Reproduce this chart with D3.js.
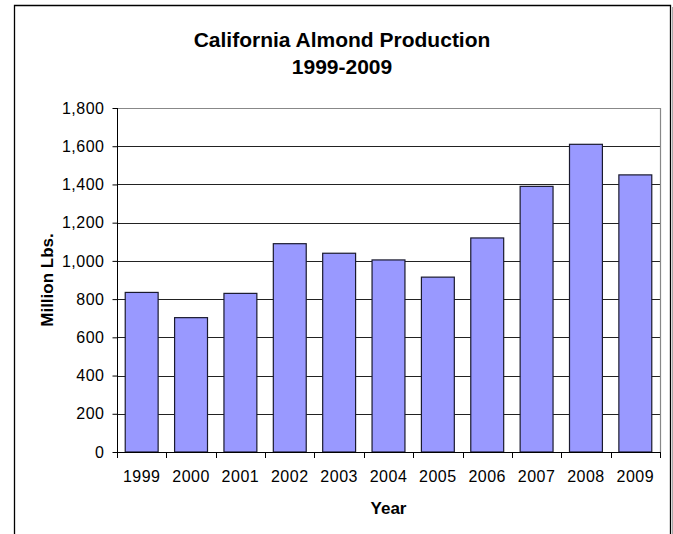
<!DOCTYPE html>
<html>
<head>
<meta charset="utf-8">
<script src="https://cdn.jsdelivr.net/npm/d3@7"></script>
<style>
  html, body { margin: 0; padding: 0; background: #fff; }
  svg { display: block; font-family: Arial, "Liberation Sans", sans-serif; }
</style>
</head>
<body>
<svg id="chart" width="673" height="534"></svg>
<script>
// --- data ---
const years = ["1999", "2000", "2001", "2002", "2003", "2004", "2005", "2006", "2007", "2008", "2009"];
const production = [835, 703, 830, 1090, 1040, 1005, 915, 1120, 1390, 1610, 1450];
const yTicks = [0, 200, 400, 600, 800, 1000, 1200, 1400, 1600, 1800];

const titleLines = ["California Almond Production", "1999-2009"];
const xTitle = "Year";
const yTitle = "Million Lbs.";

// --- layout ---
const svg = d3.select("#chart");
const plot = { left: 117, top: 108, right: 660, bottom: 452 };

const x = d3.scaleBand()
    .domain(years)
    .range([plot.left, plot.right])
    .paddingInner(1 / 3)
    .paddingOuter(1 / 6);

const y = d3.scaleLinear()
    .domain([0, 1800])
    .range([plot.bottom, plot.top]);

// outer frame (bottom edge is out of view)
svg.append("path")
    .attr("d", "M14.5,540V5.5H670.5V540")
    .attr("fill", "none")
    .attr("stroke", "#000")
    .attr("stroke-width", 1.3);
svg.append("line")
    .attr("x1", 672.5).attr("x2", 672.5)
    .attr("y1", 7).attr("y2", 540)
    .attr("stroke", "#aaa")
    .attr("stroke-width", 1);

// title
svg.append("text")
    .attr("x", 342)
    .attr("y", 46.5)
    .attr("text-anchor", "middle")
    .style("font-size", "21px")
    .style("font-weight", "bold")
    .selectAll("tspan")
    .data(titleLines)
    .enter().append("tspan")
    .attr("x", 342)
    .attr("dy", (d, i) => i === 0 ? 0 : 27)
    .text(d => d);

// gridlines
svg.append("g")
    .selectAll("line")
    .data(yTicks.slice(1))
    .enter().append("line")
    .attr("x1", plot.left).attr("x2", plot.right)
    .attr("y1", d => Math.round(y(d)) + 0.5)
    .attr("y2", d => Math.round(y(d)) + 0.5)
    .attr("stroke", "#222")
    .attr("stroke-width", 1);

// plot area border (top/right in gray)
svg.append("path")
    .attr("d", `M${plot.left},${plot.top + 0.5}H${plot.right + 0.5}V${plot.bottom}`)
    .attr("fill", "none")
    .attr("stroke", "#888")
    .attr("stroke-width", 1.2);

// bars
svg.append("g")
    .selectAll("rect")
    .data(years.map((yr, i) => ({ year: yr, value: production[i] })))
    .enter().append("rect")
    .attr("x", d => x(d.year))
    .attr("y", d => y(d.value))
    .attr("width", x.bandwidth())
    .attr("height", d => y(0) - y(d.value))
    .attr("fill", "#9999ff")
    .attr("stroke", "#1a1a2e")
    .attr("stroke-width", 1.2);

// y axis
const yAxis = svg.append("g")
    .attr("transform", `translate(${plot.left + 0.5},0)`)
    .call(d3.axisLeft(y)
        .tickValues(yTicks)
        .tickSize(5)
        .tickPadding(8)
        .tickFormat(d3.format(",")));
yAxis.select(".domain").attr("d", `M0,${plot.top}V${plot.bottom}`).attr("stroke", "#000");
yAxis.selectAll(".tick line").attr("stroke", "#000");
yAxis.selectAll("text")
    .attr("fill", "#000")
    .style("font-size", "16px")
    .style("letter-spacing", "0.5px")
    .style("font-family", "Arial, 'Liberation Sans', sans-serif");

// x axis, ticks on the category boundaries
const step = x.step();
const boundaries = d3.range(years.length + 1).map(i => plot.left + i * step);
const xAxis = svg.append("g").attr("class", "x-axis");
xAxis.append("line")
    .attr("x1", plot.left).attr("x2", plot.right + 0.5)
    .attr("y1", plot.bottom + 0.5).attr("y2", plot.bottom + 0.5)
    .attr("stroke", "#000")
    .attr("stroke-width", 1.2);
xAxis.selectAll("line.tick")
    .data(boundaries)
    .enter().append("line")
    .attr("class", "tick")
    .attr("x1", d => Math.round(d) + 0.5).attr("x2", d => Math.round(d) + 0.5)
    .attr("y1", plot.bottom).attr("y2", plot.bottom + 6)
    .attr("stroke", "#000");
xAxis.selectAll("text")
    .data(years)
    .enter().append("text")
    .attr("x", d => x(d) + x.bandwidth() / 2)
    .attr("y", 481.5)
    .attr("text-anchor", "middle")
    .style("font-size", "16px")
    .style("letter-spacing", "0.5px")
    .text(d => d);

// axis titles
svg.append("text")
    .attr("x", (plot.left + plot.right) / 2)
    .attr("y", 513.5)
    .attr("text-anchor", "middle")
    .style("font-size", "17px")
    .style("font-weight", "bold")
    .text(xTitle);

svg.append("text")
    .attr("transform", `translate(53,${(plot.top + plot.bottom) / 2}) rotate(-90)`)
    .attr("text-anchor", "middle")
    .style("font-size", "17px")
    .style("font-weight", "bold")
    .text(yTitle);
</script>
</body>
</html>
